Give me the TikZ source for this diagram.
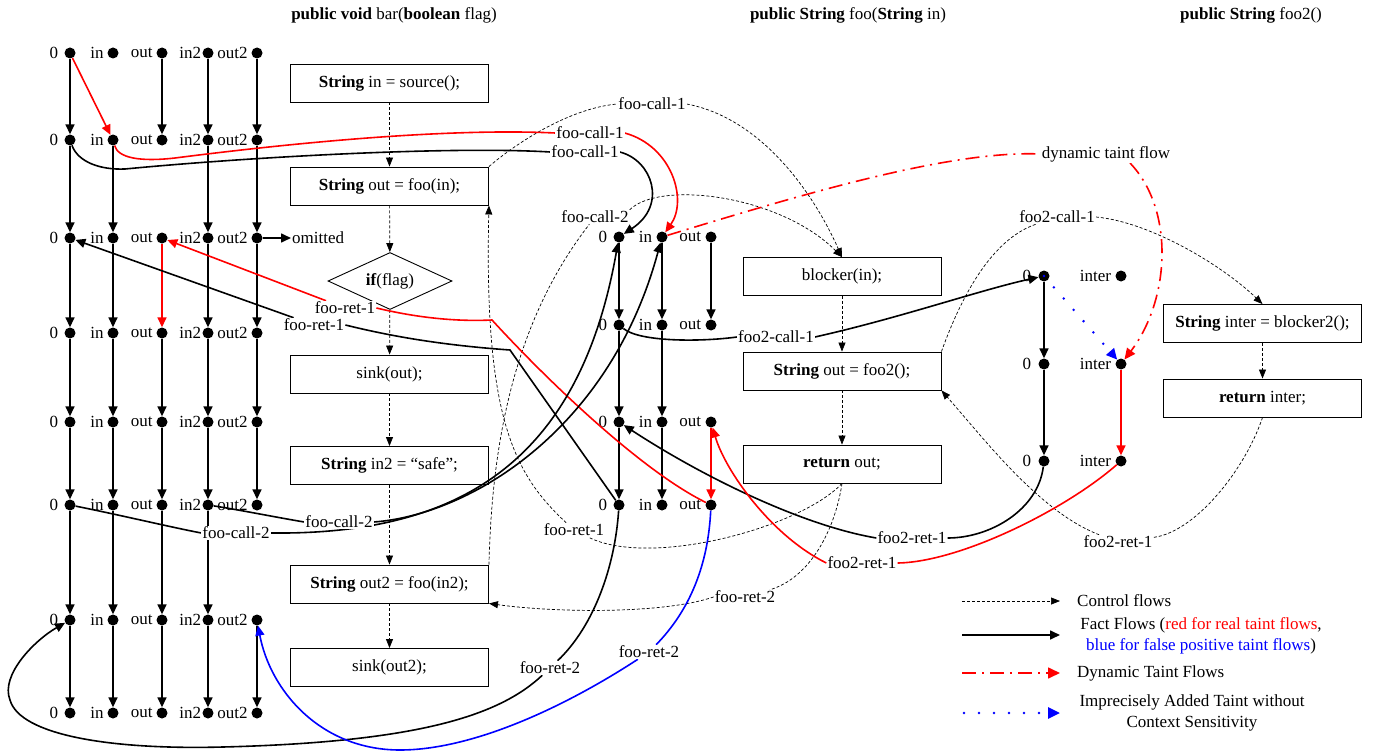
\documentclass[tikz,border=0pt]{standalone}
\usepackage{fontspec}
\setmainfont{Liberation Serif}
\usetikzlibrary{arrows.meta,shapes.geometric,positioning}
\pgfdeclarelayer{fg}
\pgfsetlayers{main,fg}
\begin{document}
\begin{tikzpicture}[x=1pt,y=-1pt,
  font=\fontsize{17}{21}\selectfont,
  dot/.style={circle,fill=black,inner sep=0pt,minimum size=11pt},
  glbl/.style={inner sep=0pt},
  tag/.style={inner sep=1pt,fill=white},
  stmt/.style={draw,line width=0.9pt,minimum width=198pt,minimum height=38pt,inner sep=0pt},
  factline/.style={line width=1.6pt},
  fact/.style={factline,-{Triangle[length=10pt,width=9pt]}},
  ctrlline/.style={line width=0.7pt,dash pattern=on 3pt off 2pt},
  ctrl/.style={ctrlline,-{Triangle[length=9pt,width=7pt]}},
  dynline/.style={red,line width=1.6pt,dash pattern=on 14pt off 6pt on 2pt off 6pt},
  dotline/.style={blue,line width=2.8pt,line cap=round,dash pattern=on 0pt off 15pt}
]
\useasboundingbox (0,0) rectangle (1374,752);

% titles
\node (tBar) at (394,15) {\textbf{public void} bar(\textbf{boolean} flag)};
\node (tFoo) at (848,15) {\textbf{public String} foo(\textbf{String} in)};
\node (tFoo2) at (1251,15) {\textbf{public String} foo2()};

% ---------- bar grid ----------
\foreach \r/\y in {1/53,2/140,3/238,4/333,5/422,6/505,7/620,8/713} {
  \foreach \c/\x/\t/\g in {z/70/0/6,i/113/in/3.5,o/162/out/3.5,t/208/in2/1,u/257/out2/3.5} {
    \node[dot] (b\c\r) at (\x,\y) {};
    \node[glbl,left=\g pt of b\c\r] {\t};
  }
}
\foreach \c/\a/\b in {z/1/2,o/1/2,t/1/2,u/1/2,
                      z/2/3,i/2/3,t/2/3,u/2/3,
                      z/3/4,i/3/4,t/3/4,u/3/4,
                      z/4/5,i/4/5,o/4/5,t/4/5,u/4/5,
                      z/5/6,i/5/6,o/5/6,t/5/6,u/5/6,
                      z/6/7,i/6/7,o/6/7,t/6/7,
                      z/7/8,i/7/8,o/7/8,t/7/8,u/7/8}
  \draw[fact] (b\c\a) -- (b\c\b);
\draw[fact,red] (bo3) -- (bo4);
\draw[fact,red] (bz1) -- (bi2);
\node[inner sep=1pt,anchor=west] (omit) at (291,238) {omitted};
\draw[fact] (bu3) -- (omit);

% ---------- foo grid ----------
\foreach \r/\y in {1/237,2/325,3/422,4/505} {
  \foreach \c/\x/\t/\g in {z/619/0/6,i/662/in/4,o/711/out/4} {
    \node[dot] (f\c\r) at (\x,\y) {};
    \node[glbl,left=\g pt of f\c\r] {\t};
  }
}
\foreach \c/\a/\b in {z/1/2,i/1/2,o/1/2,z/2/3,i/2/3,z/3/4,i/3/4}
  \draw[fact] (f\c\a) -- (f\c\b);
\draw[fact,red] (fo3) -- (fo4);

% ---------- foo2 grid ----------
\foreach \r/\y in {1/276,2/364,3/461} {
  \foreach \c/\x/\t/\g in {z/1044/0/7,i/1121/inter/4} {
    \node[dot] (g\c\r) at (\x,\y) {};
    \node[glbl,left=\g pt of g\c\r] {\t};
  }
}
\draw[fact] (gz1) -- (gz2);
\draw[fact] (gz2) -- (gz3);
\draw[fact,red] (gi2) -- (gi3);

% ---------- statements ----------
\node[stmt] (bS1) at (389.5,83) {\textbf{String} in = source();};
\node[stmt] (bS2) at (389.5,186) {\textbf{String} out = foo(in);};
\node[draw,line width=0.9pt,diamond,aspect=2.2,minimum width=124pt,minimum height=57pt,inner sep=0pt] (bIf) at (390,281) {\textbf{if}(flag)};
\node[stmt] (bS3) at (389.5,374) {sink(out);};
\node[stmt] (bS4) at (389.5,465.5) {\textbf{String} in2 = “safe”;};
\node[stmt] (bS5) at (389.5,584) {\textbf{String} out2 = foo(in2);};
\node[stmt] (bS6) at (389.5,667.5) {sink(out2);};
\node[stmt] (fS1) at (842,276.5) {blocker(in);};
\node[stmt] (fS2) at (842,371) {\textbf{String} out = foo2();};
\node[stmt] (fS3) at (842,464) {\textbf{return} out;};
\node[stmt] (gS1) at (1262.5,323.5) {\textbf{String} inter = blocker2();};
\node[stmt] (gS2) at (1262.5,398) {\textbf{return} inter;};

\draw[ctrl] (bS1) -- (bS2);
\draw[ctrl] (bS2) -- (bIf);
\draw[ctrl] (bIf) -- (bS3);
\draw[ctrl] (bS3) -- (bS4);
\draw[ctrl] (bS4) -- (bS5);
\draw[ctrl] (bS5) -- (bS6);
\draw[ctrl] (fS1) -- (fS2);
\draw[ctrl] (fS2) -- (fS3);
\draw[ctrl] (gS1) -- (gS2);

% ---------- edge labels ----------
\begin{pgfonlayer}{fg}
\node[tag] (Lfc1r) at (590,133) {foo-call-1};
\node[tag] (Lfc1b) at (585,152) {foo-call-1};
\node[tag] (Lfr1r) at (345,308) {foo-ret-1};
\node[tag] (Lfr1b) at (314,325) {foo-ret-1};
\node[tag] (Lfc2u) at (339,522) {foo-call-2};
\node[tag] (Lfc2b) at (236,533) {foo-call-2};
\node[tag] (Lf2c1) at (776,337) {foo2-call-1};
\node[tag] (Lfr2b) at (550,668) {foo-ret-2};
\node[tag] (Lfr2u) at (649,652) {foo-ret-2};
\node[tag] (Lf2r1b) at (912,538) {foo2-ret-1};
\node[tag] (Lf2r1r) at (862,563) {foo2-ret-1};
\node[tag] (Ldyn) at (1106,154) {dynamic taint flow};
\node[tag] (Lc1) at (652,104) {foo-call-1};
\node[tag] (Lc2) at (595,217) {foo-call-2};
\node[tag] (Lr1) at (574,530) {foo-ret-1};
\node[tag] (Lr2) at (745,597) {foo-ret-2};
\node[tag] (Lf2c) at (1057,217) {foo2-call-1};
\node[tag] (Lf2r) at (1118,542) {foo2-ret-1};
\end{pgfonlayer}

% ---------- interprocedural control flows ----------
\draw[ctrlline] (bS2.north east) .. controls (520,140) and (572,108) .. (Lc1.west);
\draw[ctrl] (Lc1.east) .. controls (760,118) and (812,190) .. (fS1.north);
\draw[ctrlline] (bS5.north east) .. controls (492,440) and (515,320) .. (Lc2);
\draw[ctrl] (Lc2.north east) .. controls (660,180) and (780,195) .. (fS1.north);
\draw[ctrlline] (fS3.south) .. controls (800,528) and (650,568) .. (Lr1);
\draw[ctrl] (Lr1) .. controls (515,475) and (484,420) .. (bS2.south east);
\draw[ctrlline] (fS3.south) .. controls (835,530) and (810,578) .. (Lr2);
\draw[ctrl] (Lr2.west) .. controls (660,615) and (550,612) .. (bS5.south east);
\draw[ctrlline] (fS2.north east) .. controls (960,300) and (990,240) .. (Lf2c);
\draw[ctrl] (Lf2c.east) .. controls (1150,222) and (1222,265) .. (gS1.north);
\draw[ctrlline] (gS2.south) .. controls (1245,470) and (1195,532) .. (Lf2r);
\draw[ctrl] (Lf2r) .. controls (1040,512) and (985,440) .. (fS2.south east);

% ---------- interprocedural fact flows ----------
% foo-call-1
\draw[factline,red] (bi2) .. controls (118,158) and (140,162) .. (175,158) .. controls (300,142) and (450,128) .. (Lfc1r.west);
\draw[fact,red] (Lfc1r.east) .. controls (672,146) and (688,200) .. (fi1);
\draw[factline] (bz2) .. controls (78,162) and (100,170) .. (125,169) .. controls (250,157) and (450,146) .. (Lfc1b.west);
\draw[fact] (Lfc1b.east) .. controls (652,160) and (668,205) .. (fz1);
% foo-ret-1
\coordinate (cR) at (492,320);
\draw[factline,red] (fo4) .. controls (640,470) and (545,378) .. (cR) .. controls (450,322) and (410,316) .. (Lfr1r.east);
\draw[fact,red] (Lfr1r) -- (bo3);
\coordinate (cB) at (510,350);
\draw[factline] (fz4) -- (cB) .. controls (440,345) and (390,336) .. (Lfr1b.east);
\draw[fact] (Lfr1b) -- (bz3);
% foo-call-2
\draw[factline] (bz6) .. controls (120,515) and (170,527) .. (Lfc2b.west);
\draw[fact] (Lfc2b.east) .. controls (450,535) and (578,470) .. (fz1);
\draw[factline] (bt6) .. controls (240,510) and (280,518) .. (Lfc2u.west);
\draw[fact] (Lfc2u.east) .. controls (470,515) and (610,430) .. (fi1);
% foo-ret-2
\draw[factline] (fz4) .. controls (615,565) and (595,625) .. (Lfr2b);
\draw[fact] (Lfr2b) .. controls (500,715) and (420,742) .. (223,747) .. controls (110,750) and (20,735) .. (10,700) .. controls (0,675) and (35,640) .. (bz7);
\draw[factline,blue] (fo4) .. controls (708,565) and (690,610) .. (Lfr2u);
\draw[fact,blue] (Lfr2u) .. controls (560,710) and (470,750) .. (400,750) .. controls (320,750) and (270,690) .. (bu7);
% foo2-call-1
\draw[factline] (fz2) .. controls (640,342) and (700,342) .. (Lf2c1.west);
\draw[fact] (Lf2c1.east) .. controls (900,318) and (980,290) .. (gz1);
% foo2-ret-1
\draw[factline] (gz3) .. controls (1038,510) and (990,538) .. (Lf2r1b.east);
\draw[fact] (Lf2r1b.west) .. controls (800,525) and (700,475) .. (fz3);
\draw[factline,red] (gi3) .. controls (1065,510) and (960,562) .. (Lf2r1r.east);
\draw[fact,red] (Lf2r1r.west) .. controls (770,535) and (725,470) .. (fo3);
% dynamic taint flow
\draw[dynline] (fi1) .. controls (800,195) and (950,150) .. (Ldyn.west);
\draw[dynline,-{Triangle[length=11pt,width=10pt]}] ([xshift=24pt]Ldyn.south) .. controls (1175,210) and (1170,300) .. (gi2);
% imprecise taint
\draw[dotline,-{Triangle[length=11pt,width=10pt]}] (gz1.center) -- (gi2);

% ---------- legend ----------
\coordinate (lgA1) at (962,601); \coordinate (lgA2) at (1060,601);
\coordinate (lgB1) at (962,635); \coordinate (lgB2) at (1060,635);
\coordinate (lgC1) at (962,673); \coordinate (lgC2) at (1060,673);
\coordinate (lgD1) at (964,713); \coordinate (lgD2) at (1060,713);
\draw[ctrl] (lgA1) -- (lgA2);
\draw[fact] (lgB1) -- (lgB2);
\draw[dynline,-{Triangle[length=12pt,width=11pt]}] (lgC1) -- (lgC2);
\draw[dotline,-{Triangle[length=12pt,width=11pt]}] (lgD1) -- (lgD2);
\node[anchor=west,inner sep=0pt] (lgT1) at (1077,601) {Control flows};
\node[align=center,inner sep=0pt] (lgT2) at (1201,635.5) {Fact Flows (\textcolor{red}{red for real taint flows},\\\textcolor{blue}{blue for false positive taint flows})};
\node[anchor=west,inner sep=0pt] (lgT3) at (1077,673) {Dynamic Taint Flows};
\node[align=center,inner sep=0pt] (lgT4) at (1192,712.5) {Imprecisely Added Taint without\\Context Sensitivity};
\end{tikzpicture}
\end{document}
